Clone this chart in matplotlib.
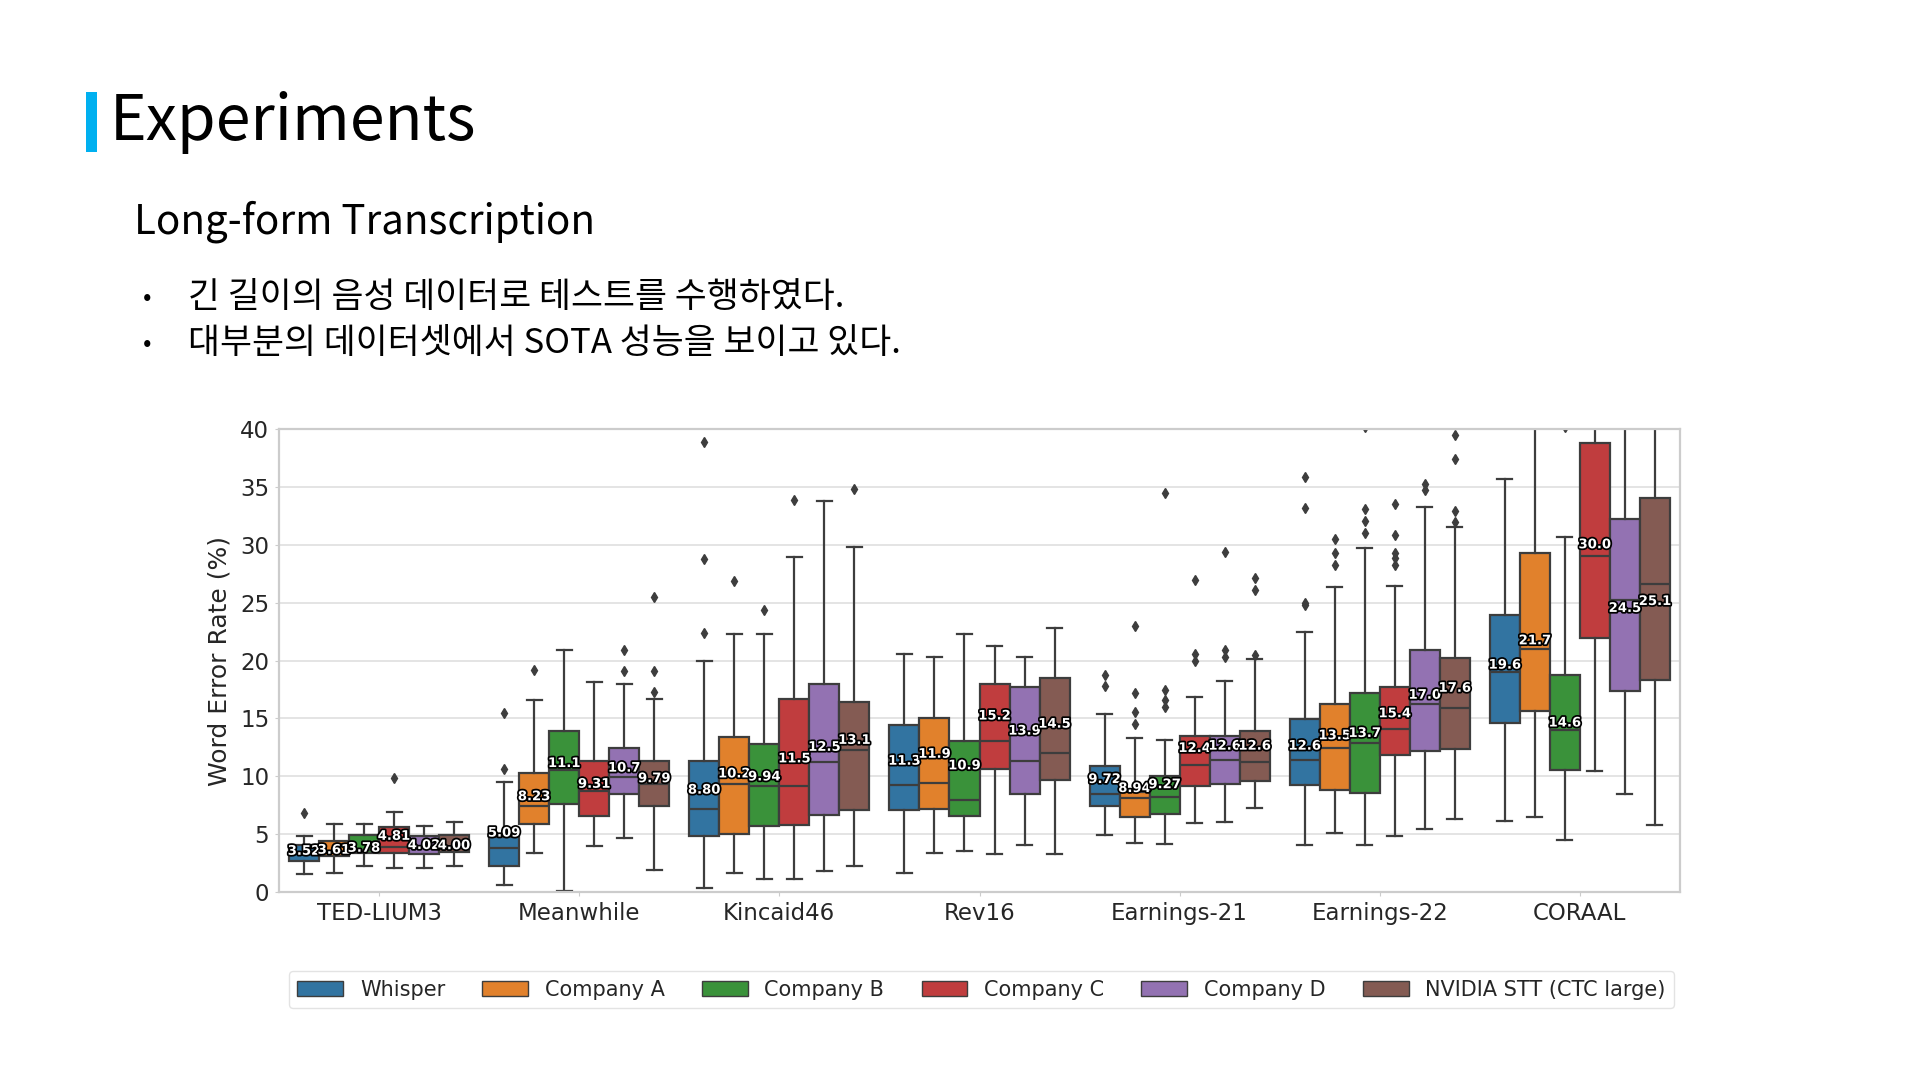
import matplotlib
matplotlib.use("Agg")
import matplotlib.pyplot as plt
import matplotlib.patches as patches
import matplotlib.patheffects as pe

plt.rcParams['font.family'] = ['DejaVu Sans']
KR = ['Noto Sans CJK KR', 'DejaVu Sans']

# datos
datasets = ["TED-LIUM3", "Meanwhile", "Kincaid46", "Rev16", "Earnings-21", "Earnings-22", "CORAAL"]
systems = ["Whisper", "Company A", "Company B", "Company C", "Company D", "NVIDIA STT (CTC large)"]
colors = ["#3274a1", "#e1812c", "#3a923a", "#c03d3e", "#9372b2", "#845b53"]

# filas = datasets, columnas = systems
q1 = [[2.65, 3.11, 3.40, 3.40, 3.31, 3.46],
      [2.22, 5.91, 7.64, 6.54, 8.50, 7.40],
      [4.84, 4.99, 5.70, 5.76, 6.63, 7.06],
      [7.06, 7.15, 6.54, 10.66, 8.47, 9.65],
      [7.44, 6.48, 6.71, 9.14, 9.31, 9.60],
      [9.22, 8.85, 8.56, 11.82, 12.19, 12.39],
      [14.61, 15.62, 10.52, 21.96, 17.35, 18.30]]
med = [[3.30, 3.40, 3.60, 3.89, 3.90, 3.90],
       [3.83, 7.46, 10.58, 8.70, 9.94, 9.37],
       [7.20, 9.37, 9.20, 9.16, 11.24, 12.25],
       [9.22, 9.45, 7.98, 13.03, 11.33, 12.02],
       [8.50, 8.16, 8.21, 10.95, 11.38, 11.24],
       [11.38, 12.45, 12.88, 14.12, 16.20, 15.91],
       [19.02, 21.00, 14.00, 29.00, 25.20, 26.60]]
q3 = [[4.09, 4.41, 4.90, 5.62, 4.87, 4.90],
      [4.76, 10.29, 13.92, 11.33, 12.45, 11.33],
      [11.30, 13.37, 12.82, 16.69, 17.93, 16.40],
      [14.47, 14.99, 13.05, 17.93, 17.75, 18.53],
      [10.86, 8.65, 10.00, 13.46, 13.46, 13.89],
      [14.96, 16.20, 17.15, 17.67, 20.95, 20.23],
      [23.92, 29.31, 18.73, 38.76, 32.19, 34.00]]
lo = [[1.53, 1.64, 2.28, 2.10, 2.10, 2.28],
      [0.58, 3.37, 0.06, 3.98, 4.67, 1.93],
      [0.35, 1.64, 1.15, 1.15, 1.79, 2.28],
      [1.64, 3.37, 3.52, 3.31, 4.09, 3.29],
      [4.96, 4.24, 4.12, 5.97, 6.05, 7.29],
      [4.09, 5.10, 4.09, 4.81, 5.48, 6.34],
      [6.11, 6.48, 4.47, 10.46, 8.50, 5.76]]
hi = [[4.80, 5.88, 5.88, 6.95, 5.68, 6.05],
      [9.51, 16.60, 20.95, 18.16, 18.00, 16.70],
      [19.97, 22.25, 22.25, 28.96, 33.78, 29.77],
      [20.60, 20.29, 22.28, 21.27, 20.26, 22.77],
      [15.42, 13.34, 13.11, 16.86, 18.24, 20.17],
      [22.48, 26.37, 29.68, 26.43, 33.29, 31.56],
      [35.68, 45.00, 30.63, 45.00, 45.00, 45.00]]
fliers = [[[6.83], [], [], [9.83], [], []],
          [[10.6, 15.5], [19.16], [], [], [19.08, 20.95], [17.3, 19.08, 25.5]],
          [[22.4, 28.76, 38.9], [26.9], [24.35], [33.86], [], [34.8]],
          [[], [], [], [], [], []],
          [[17.78, 18.73], [14.55, 15.56, 17.15, 22.97], [15.99, 16.63, 17.43, 34.44],
           [19.97, 20.6, 26.95], [20.3, 20.95, 29.4], [20.46, 26.08, 27.09]],
          [[24.78, 25.0, 33.14, 35.82], [28.24, 29.31, 30.46], [30.98, 32.05, 33.08, 40.2],
           [28.24, 28.82, 29.25, 30.84, 33.49], [34.73, 35.24], [31.99, 32.94, 37.38, 39.48]],
          [[], [], [40.2], [], [], []]]
means = [[3.52, 3.61, 3.78, 4.81, 4.02, 4.00],
         [5.09, 8.23, 11.1, 9.31, 10.7, 9.79],
         [8.80, 10.2, 9.94, 11.5, 12.5, 13.1],
         [11.3, 11.9, 10.9, 15.2, 13.9, 14.5],
         [9.72, 8.94, 9.27, 12.4, 12.6, 12.6],
         [12.6, 13.5, 13.7, 15.4, 17.0, 17.6],
         [19.6, 21.7, 14.6, 30.0, 24.5, 25.1]]

fig = plt.figure(figsize=(19.2, 10.8), dpi=100)

# Texto de la diapositiva
fig.patches.append(patches.Rectangle((86 / 1920, 1 - 152 / 1080), 11 / 1920, 60 / 1080,
                                     transform=fig.transFigure, facecolor="#00b0f0",
                                     edgecolor="none"))
fig.text(110 / 1920, 1 - 122 / 1080, "Experiments", fontsize=45, family=KR,
         va="center", ha="left", color="black")
fig.text(134 / 1920, 1 - 222 / 1080, "Long-form Transcription", fontsize=29, family=KR,
         va="center", ha="left", color="black")
bullets = ["긴 길이의 음성 데이터로 테스트를 수행하였다.",
           "대부분의 데이터셋에서 SOTA 성능을 보이고 있다."]
for k, b in enumerate(bullets):
    y = 1 - (298 + 46 * k) / 1080
    fig.text(143 / 1920, y, "•", fontsize=18, family=KR, va="center", ha="left")
    fig.text(188 / 1920, y, b, fontsize=25, family=KR, va="center", ha="left")

# Grafico
ax = fig.add_axes([279 / 1920, 1 - 892 / 1080, 1401 / 1920, 463 / 1080])
ax.set_axisbelow(True)
ax.yaxis.grid(True, color="#e2e2e2", lw=1.3)
for s in ax.spines.values():
    s.set_color("#cccccc")
    s.set_linewidth(1.6)

w = 0.15
gris = "#3d3d3d"
for i in range(len(datasets)):
    for j in range(len(systems)):
        x = i + (j - 2.5) * w
        st = dict(q1=q1[i][j], med=med[i][j], q3=q3[i][j], whislo=lo[i][j],
                  whishi=hi[i][j], fliers=fliers[i][j])
        ax.bxp([st], positions=[x], widths=w, patch_artist=True, showfliers=True,
               boxprops=dict(facecolor=colors[j], edgecolor=gris, lw=1.6),
               medianprops=dict(color=gris, lw=1.6),
               whiskerprops=dict(color=gris, lw=1.6),
               capprops=dict(color=gris, lw=1.6),
               flierprops=dict(marker="d", markerfacecolor=gris, markeredgecolor=gris,
                               markersize=5))
        m = means[i][j]
        lab = "%.2f" % m if m < 10 else "%.1f" % m
        ax.text(x, m, lab, ha="center", va="center", fontsize=9.5, fontweight="bold",
                color="white", zorder=10,
                path_effects=[pe.withStroke(linewidth=2.5, foreground="black")])

ax.set_xlim(-0.5, len(datasets) - 0.5)
ax.set_ylim(0, 40)
ax.set_xticks(range(len(datasets)))
ax.set_xticklabels(datasets)
ax.set_yticks(range(0, 41, 5))
ax.tick_params(axis="both", labelsize=16.5, colors="#cccccc", labelcolor="#262626",
               length=3, pad=4)
ax.set_ylabel("Word Error Rate (%)", fontsize=18, color="#262626", labelpad=6)

handles = [patches.Patch(facecolor=c, edgecolor=gris, label=s) for c, s in zip(colors, systems)]
fig.legend(handles=handles, loc="center", ncol=6, mode="expand", borderaxespad=0,
           bbox_to_anchor=(289 / 1920, 1 - 1008 / 1080, 1385 / 1920, 37 / 1080),
           fontsize=15, frameon=True, edgecolor="#dddddd", handlelength=2.2,
           handleheight=0.7, labelcolor="#262626")

fig.savefig("out.png", dpi=100)
